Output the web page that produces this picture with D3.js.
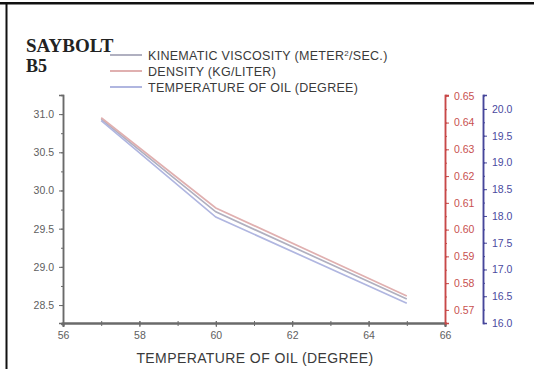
<!DOCTYPE html>
<html>
<head>
<meta charset="utf-8">
<script src="https://cdn.jsdelivr.net/npm/d3@7/dist/d3.min.js"></script>
<style>
  body { margin: 0; background: #fff; }
  svg { display: block; }
  .tick text { font-family: "Liberation Sans", Arial, sans-serif; font-size: 10.5px; }
</style>
</head>
<body>
<svg id="chart" width="534" height="369"></svg>
<script>
const temperatures = [57, 60, 65];
const kinematic = [30.935, 29.72, 28.58];
const density = [0.6418, 0.6081, 0.5752];
const oilTemp = [19.78, 17.98, 16.37];

const xTicks = [56, 58, 60, 62, 64, 66];
const leftTicks = [28.5, 29.0, 29.5, 30.0, 30.5, 31.0];
const redTicks = [0.57, 0.58, 0.59, 0.60, 0.61, 0.62, 0.63, 0.64, 0.65];
const blueTicks = [16.0, 16.5, 17.0, 17.5, 18.0, 18.5, 19.0, 19.5, 20.0];

const legendNames = ["KINEMATIC VISCOSITY (METER", "DENSITY (KG/LITER)", "TEMPERATURE OF OIL (DEGREE)"];

const PLOT = { left: 63, right: 445, top: 95, bottom: 323 };
const BLUE_X = 483;

const COLORS = {
  gray: "#b0b0c0", red: "#e0b0b0", blue: "#b0b6e0",
  axisGray: "#6a6a6a", axisRed: "#c84848", axisBlue: "#46469a",
  textGray: "#606060", textRed: "#c85050", textBlue: "#4a4aa0"
};

const svg = d3.select("#chart");

// frame lines
svg.append("rect").attr("x", 0).attr("y", 2).attr("width", 534).attr("height", 2.5).attr("fill", "#111");
svg.append("rect").attr("x", 5.5).attr("y", 2).attr("width", 2).attr("height", 367).attr("fill", "#111");

const x = d3.scaleLinear().domain([56, 66]).range([PLOT.left, PLOT.right]);
const yLeft = d3.scaleLinear().domain([28.265, 31.25]).range([PLOT.bottom, PLOT.top]);
const yRed = d3.scaleLinear().domain([0.5651, 0.6503]).range([PLOT.bottom, PLOT.top]);
const yBlue = d3.scaleLinear().domain([16.0, 20.26]).range([PLOT.bottom, PLOT.top]);

const range = (a, b, s) => d3.range(a, b + s / 2, s);

function styleAxis(g, color, textColor, width) {
  g.select(".domain").attr("stroke", color).attr("stroke-width", width);
  g.selectAll(".tick line").attr("stroke", color).attr("stroke-width", 1);
  g.selectAll(".tick text").attr("fill", textColor);
}

// left axis
const gl = svg.append("g").attr("transform", `translate(${PLOT.left},0)`);
gl.append("g").call(d3.axisLeft(yLeft).tickValues(range(28.25, 31.25, 0.25)).tickSize(2).tickFormat(""))
  .call(g => styleAxis(g, COLORS.axisGray, COLORS.textGray, 1.5));
gl.append("g").call(d3.axisLeft(yLeft).tickValues(leftTicks).tickSize(4).tickPadding(5).tickFormat(d3.format(".1f")))
  .call(g => styleAxis(g, COLORS.axisGray, COLORS.textGray, 1.5));

// bottom axis
const gb = svg.append("g").attr("transform", `translate(0,${PLOT.bottom})`);
gb.append("g").call(d3.axisBottom(x).ticks(10).tickSize(3).tickFormat(""))
  .call(g => styleAxis(g, COLORS.axisGray, COLORS.textGray, 2));
gb.append("g").call(d3.axisBottom(x).tickValues(xTicks).tickSize(4).tickPadding(5).tickFormat(d3.format("d")))
  .call(g => styleAxis(g, COLORS.axisGray, COLORS.textGray, 2));
gb.selectAll(".tick line").attr("y1", -2);

// red axis
const gr = svg.append("g").attr("transform", `translate(${PLOT.right},0)`);
gr.append("g").call(d3.axisRight(yRed).tickValues(range(0.565, 0.65, 0.005)).tickSize(2).tickFormat(""))
  .call(g => styleAxis(g, COLORS.axisRed, COLORS.textRed, 1.5));
gr.append("g").call(d3.axisRight(yRed).tickValues(redTicks).tickSize(4).tickPadding(5).tickFormat(d3.format(".2f")))
  .call(g => styleAxis(g, COLORS.axisRed, COLORS.textRed, 1.5));

// blue axis
const gbl = svg.append("g").attr("transform", `translate(${BLUE_X},0)`);
gbl.append("g").call(d3.axisRight(yBlue).tickValues(range(16, 20.25, 0.25)).tickSize(2).tickFormat(""))
  .call(g => styleAxis(g, COLORS.axisBlue, COLORS.textBlue, 1.5));
gbl.append("g").call(d3.axisRight(yBlue).tickValues(blueTicks).tickSize(4).tickPadding(5).tickFormat(d3.format(".1f")))
  .call(g => styleAxis(g, COLORS.axisBlue, COLORS.textBlue, 1.5));

// series
const series = [
  { vals: kinematic, y: yLeft, color: COLORS.gray },
  { vals: density, y: yRed, color: COLORS.red },
  { vals: oilTemp, y: yBlue, color: COLORS.blue }
];
series.forEach(s => {
  const line = d3.line().x((d, i) => x(temperatures[i])).y(d => s.y(d));
  svg.append("path").datum(s.vals).attr("d", line)
    .attr("fill", "none").attr("stroke", s.color).attr("stroke-width", 1.7);
});

// title
svg.append("text").attr("x", 26).attr("y", 52).attr("font-family", "Liberation Serif, serif")
  .attr("font-weight", "bold").attr("font-size", 19).attr("fill", "#222").text("SAYBOLT");
svg.append("text").attr("x", 26).attr("y", 72).attr("font-family", "Liberation Serif, serif")
  .attr("font-weight", "bold").attr("font-size", 18).attr("fill", "#222").text("B5");

// legend
const legendColors = [COLORS.gray, COLORS.red, COLORS.blue];
legendNames.forEach((name, i) => {
  const ly = 55 + i * 16;
  svg.append("line").attr("x1", 110).attr("x2", 142).attr("y1", ly).attr("y2", ly)
    .attr("stroke", legendColors[i]).attr("stroke-width", 2);
  const t = svg.append("text").attr("x", 148).attr("y", ly + 5)
    .attr("font-family", "Liberation Sans, Arial, sans-serif").attr("font-size", 12.5)
    .attr("letter-spacing", 0.3).attr("fill", "#3a3a3a");
  if (i === 0) {
    t.append("tspan").text(name);
    t.append("tspan").attr("dy", -4).attr("font-size", 8).text("2");
    t.append("tspan").attr("dy", 4).text("/SEC.)");
  } else {
    t.text(name);
  }
});

// x axis title
svg.append("text").attr("x", (PLOT.left + PLOT.right) / 2 + 1).attr("y", 363)
  .attr("text-anchor", "middle").attr("font-family", "Liberation Sans, Arial, sans-serif")
  .attr("font-size", 14).attr("letter-spacing", 0.4).attr("fill", "#3a3a3a").text("TEMPERATURE OF OIL (DEGREE)");
</script>
</body>
</html>
